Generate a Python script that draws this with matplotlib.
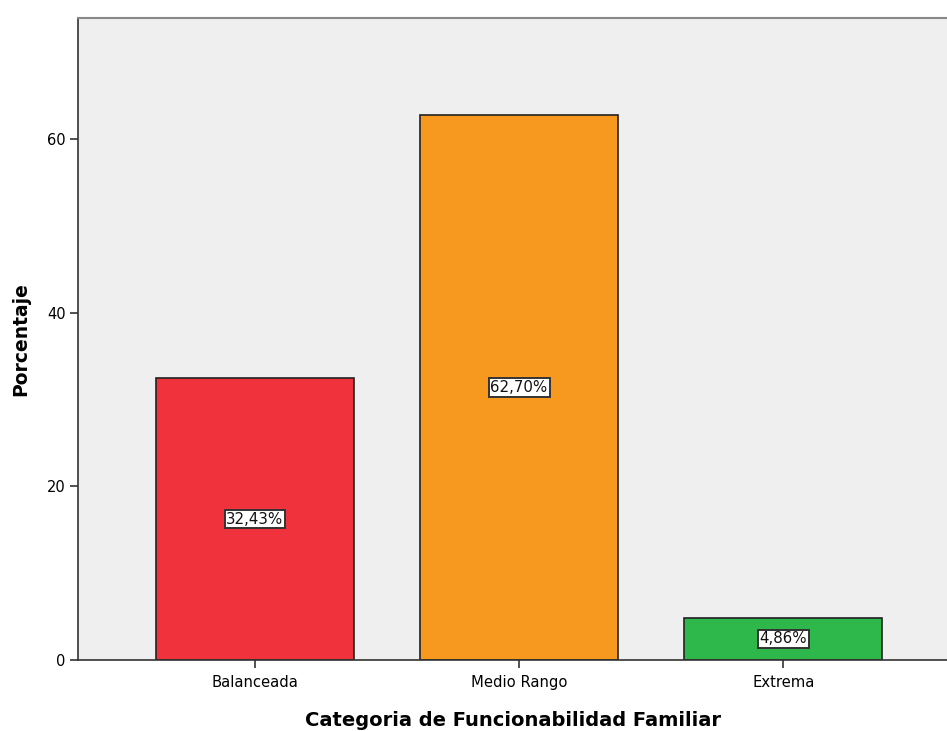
import matplotlib
matplotlib.use("Agg")
import matplotlib.pyplot as plt

categories = ["Balanceada", "Medio Rango", "Extrema"]
values = [32.43, 62.70, 4.86]
labels = ["32,43%", "62,70%", "4,86%"]
colors = ["#EF323C", "#F7991E", "#2EB74A"]
yticks = [0, 20, 40, 60]

plt.rcParams['font.family'] = ['DejaVu Sans']

fig = plt.figure(figsize=(9.47, 7.31), dpi=100)
ax = fig.add_axes([78/947, 71/731, 1 - 78/947, (660-18)/731])
ax.set_facecolor("#EFEFEF")
x = list(range(len(categories)))
ax.bar(x, values, width=0.75, color=colors, edgecolor="#222222", linewidth=1.2, zorder=2)
for xi, v, lab in zip(x, values, labels):
    ax.text(xi, v / 2, lab, ha="center", va="center", fontsize=10.8, color="#111111",
            bbox=dict(boxstyle="square,pad=0.12", fc="white", ec="#333333", lw=1.4), zorder=3)
ax.set_xlim(-0.67, 2.62)
ax.set_ylim(0, 73.9)
ax.set_xticks(x)
ax.set_xticklabels(categories, fontsize=10.6)
ax.set_yticks(yticks)
ax.set_yticklabels([str(t) for t in yticks], fontsize=10.5)
ax.tick_params(axis="both", direction="out", length=6, width=1.2, color="#333333", pad=3)
ax.tick_params(axis="x", pad=5)
for s in ["left", "bottom"]:
    ax.spines[s].set_color("#333333")
    ax.spines[s].set_linewidth(1.2)
ax.spines["top"].set_color("#888888")
ax.spines["top"].set_linewidth(1.5)
ax.spines["right"].set_visible(False)
ax.set_ylabel("Porcentaje", fontsize=13.5, fontweight="bold", labelpad=12)
ax.set_xlabel("Categoria de Funcionabilidad Familiar", fontsize=14, fontweight="bold", labelpad=15)
fig.savefig("out.png", dpi=100)
